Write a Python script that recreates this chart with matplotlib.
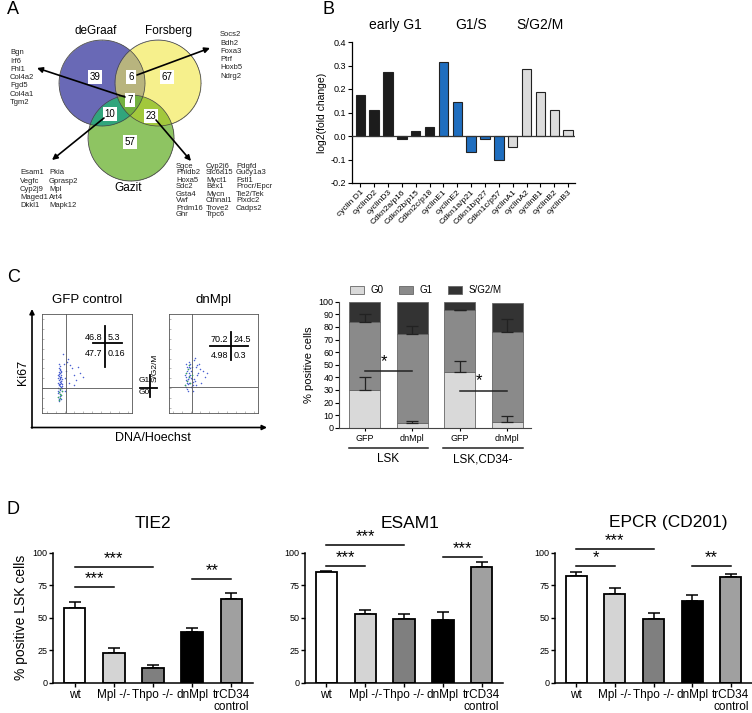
import numpy as np
import matplotlib
matplotlib.use('Agg')
import matplotlib.pyplot as plt
from matplotlib.patches import Circle

plt.rcParams['font.family'] = ['Liberation Sans', 'DejaVu Sans']

W, H = 752, 713

# ---------------- data ----------------
# A: Venn of HSC signature genes
venn_names = ['deGraaf', 'Forsberg', 'Gazit']
venn_counts = {'100': 39, '110': 6, '010': 67, '111': 7, '101': 10, '011': 23, '001': 57}
genes_all3 = ['Bgn', 'Irf6', 'Fhl1', 'Col4a2', 'Fgd5', 'Col4a1', 'Tgm2']
genes_dg_fo = ['Socs2', 'Bdh2', 'Foxa3', 'Ptrf', 'Hoxb5', 'Ndrg2']
genes_dg_ga = [['Esam1', 'Vegfc', 'Cyp2j9', 'Maged1', 'Dkkl1'],
               ['Pkia', 'Gprasp2', 'Mpl', 'Art4', 'Mapk12']]
genes_fo_ga = [['Sgce', 'Phldb2', 'Hoxa5', 'Sdc2', 'Gsta4', 'Vwf', 'Prdm16', 'Ghr'],
               ['Cyp2j6', 'Slc6a15', 'Myct1', 'Bex1', 'Mycn', 'Ctnnal1', 'Trove2', 'Trpc6'],
               ['Pdgfd', 'Gucy1a3', 'Fstl1', 'Procr/Epcr', 'Tie2/Tek', 'Plxdc2', 'Cadps2']]

# B: cell-cycle gene expression
cc_genes = ['cyclin D1', 'cyclinD2', 'cyclinD3', 'Cdkn2a/p16', 'Cdkn2b/p15', 'Cdkn2c/p18',
            'cyclinE1', 'cyclinE2', 'Cdkn1a/p21', 'Cdkn1b/p27', 'Cdkn1c/p57',
            'cyclinA1', 'cyclinA2', 'cyclinB1', 'cyclinB2', 'cyclinB3']
log2_fc = [0.175, 0.112, 0.272, -0.013, 0.021, 0.038,
           0.315, 0.145, -0.070, -0.013, -0.100,
           -0.045, 0.284, 0.187, 0.112, 0.027]
phases = ['early G1', 'G1/S', 'S/G2/M']
phase_sizes = [6, 5, 5]

# C: flow plots (Ki67 vs DNA), data units 0-100
gfp_x = [19, 20, 18, 21, 20, 19, 22, 20, 18, 21, 19, 20, 21, 20, 19, 22, 18, 20,
         21, 19, 20, 21, 20, 19, 18, 20, 22, 21, 19, 20, 20, 21, 19, 18, 20,
         19, 21, 20, 18, 22, 20, 19, 21, 20, 18, 21, 19, 20, 22, 19,
         25, 27, 30, 33, 24, 36, 29, 38, 42, 26, 31, 45, 23, 35, 28, 40]
gfp_y = [13, 15, 16, 18, 19, 21, 22, 24, 25, 26, 28, 29, 30, 31, 33, 34, 35, 36,
         38, 39, 40, 42, 43, 45, 20, 17, 27, 32, 37, 23, 47, 41, 14, 30, 35,
         12, 14, 17, 22, 25, 27, 29, 32, 34, 38, 36, 41, 44, 29, 49,
         35, 42, 30, 45, 50, 38, 55, 33, 40, 22, 48, 36, 60, 28, 52, 46]
dn_x = [18, 20, 22, 19, 24, 21, 26, 23, 28, 20, 25, 30, 22, 27, 33, 19, 24, 29, 35, 21,
        26, 31, 38, 23, 28, 20, 25, 32, 40, 22, 27, 36, 19, 24, 30, 21, 43, 34, 26, 29,
        19, 20, 21, 18, 20, 22, 19, 21, 23, 25, 27, 24]
dn_y = [28, 32, 36, 40, 30, 44, 38, 48, 34, 24, 42, 46, 52, 28, 40, 36, 50, 32, 44, 22,
        34, 38, 42, 30, 54, 46, 26, 48, 36, 40, 22, 30, 50, 38, 28, 34, 40, 50, 46, 56,
        26, 30, 34, 38, 42, 46, 33, 29, 37, 35, 31, 45]
gfp_quads = ['46.8', '5.3', '47.7', '0.16']
dn_quads = ['70.2', '24.5', '4.98', '0.3']

# C: cell-cycle distribution (% positive cells)
cc_labels = ['GFP', 'dnMpl', 'GFP', 'dnMpl']
cc_groups = ['LSK', 'LSK,CD34-']
g0 = [29.6, 3.4, 44.4, 4.8]
g0_err = [10.4, 1.6, 8.8, 4.5]
g1 = [54.5, 71.2, 49.0, 71.4]
g1_err = [5.9, 6.1, 0.0, 10.0]
sg2m = [15.9, 25.4, 6.6, 22.5]
cc_sig = [(0, 1, 44.7, '*'), (2, 3, 29.4, '*')]

# D: surface markers on LSK cells
genotypes = ['wt', 'Mpl -/-', 'Thpo -/-', 'dnMpl', 'trCD34\ncontrol']
tie2 = [57.7, 22.6, 11.0, 38.7, 64.1]
tie2_sem = [4.6, 3.8, 2.3, 3.6, 4.6]
esam1 = [85.2, 52.9, 49.0, 48.3, 88.8]
esam1_sem = [0.8, 3.1, 3.4, 5.9, 3.8]
epcr = [81.8, 67.8, 48.8, 62.9, 81.3]
epcr_sem = [3.6, 5.1, 4.4, 4.4, 2.1]
tie2_sig = [(0, 1, 73.8, '***'), (0, 2, 88.5, '***'), (3, 4, 79.7, '**')]
esam1_sig = [(0, 1, 89.6, '***'), (0, 2, 105.6, '***'), (3, 4, 96.2, '***')]
epcr_sig = [(0, 1, 89.8, '*'), (0, 2, 103.0, '***'), (3, 4, 89.8, '**')]


def px_axes(fig, x0, y0, x1, y1, **kw):
    return fig.add_axes([x0 / W, 1 - y1 / H, (x1 - x0) / W, (y1 - y0) / H], **kw)


fig = plt.figure(figsize=(W / 100, H / 100), dpi=100)

# ---------------- B ----------------
axb = px_axes(fig, 352, 42, 575, 183)
phase_colors = ['#1c1c1c', '#1f6ebf', '#dcdcdc']
bar_colors = [c for c, n in zip(phase_colors, phase_sizes) for _ in range(n)]
xb = np.arange(len(cc_genes))
axb.bar(xb, log2_fc, width=0.68, color=bar_colors, edgecolor='#222', lw=0.8, zorder=2)
axb.axhline(0, color='#333', lw=0.9, zorder=3)
axb.set_xlim(-0.6, 15.5)
axb.set_ylim(-0.2, 0.4)
yt = np.round(np.arange(-0.2, 0.41, 0.1), 1)
axb.set_yticks(yt)
axb.set_yticklabels([f'{v:.1f}' for v in yt])
axb.set_xticks(xb)
axb.set_xticklabels(cc_genes, rotation=45, ha='right', rotation_mode='anchor', fontsize=6)
axb.tick_params(axis='y', labelsize=6.5, length=3, width=0.8, pad=1.5)
axb.tick_params(axis='x', length=3, width=0.8, pad=1)
for s in ['top', 'right']:
    axb.spines[s].set_visible(False)
for s in ['left', 'bottom']:
    axb.spines[s].set_linewidth(0.9)
axb.set_ylabel('log2(fold change)', fontsize=7.5, labelpad=2)
start = 0
for name, n in zip(phases, phase_sizes):
    axb.text(start + (n - 1) / 2, 0.472, name, ha='center', va='center', fontsize=10,
             clip_on=False)
    start += n

# ---------------- C flow ----------------
for (x0, x1), xs, ys, gx, gy, title in [((42, 132), gfp_x, gfp_y, 26.7, 25, 'GFP control'),
                                          ((169, 258), dn_x, dn_y, 26, 26, 'dnMpl')]:
    axf = px_axes(fig, x0, 314, x1, 413)
    axf.scatter(xs, ys, s=1.2, color='#4a5fd1', linewidths=0, zorder=2)
    axf.scatter(xs[:8], ys[:8], s=1.2, color='#37a85a', linewidths=0, zorder=3)
    axf.axvline(gx, color='#555', lw=0.6)
    axf.axhline(gy, color='#555', lw=0.6)
    axf.set_xlim(0, 100)
    axf.set_ylim(0, 100)
    axf.set_xticks(np.arange(5, 100, 10))
    axf.set_yticks(np.arange(5, 100, 10))
    axf.set_xticklabels([])
    axf.set_yticklabels([])
    axf.tick_params(length=1.5, width=0.4, direction='in', colors='#888')
    for s in axf.spines.values():
        s.set_linewidth(0.6)
        s.set_color('#555')
    axf.set_title(title, fontsize=9.5, pad=8)

# ---------------- C bars ----------------
axc = px_axes(fig, 339, 301.7, 531, 427.7)
xc = np.arange(4)
wc = 0.65
g1_bottom = np.array(g0)
sg_bottom = g1_bottom + np.array(g1)
axc.bar(xc, g0, width=wc, color='#d9d9d9', edgecolor='#666', lw=0.6, label='G0', zorder=2)
axc.bar(xc, g1, bottom=g1_bottom, width=wc, color='#8a8a8a', edgecolor='#666', lw=0.6,
        label='G1', zorder=2)
axc.bar(xc, sg2m, bottom=sg_bottom, width=wc, color='#333333', edgecolor='#666', lw=0.6,
        label='S/G2/M', zorder=2)
axc.errorbar(xc, g0, yerr=[np.zeros(4), g0_err], fmt='none', ecolor='#222', elinewidth=0.9,
             capsize=4, capthick=0.9, zorder=3)
axc.errorbar(xc, sg_bottom, yerr=[np.zeros(4), g1_err], fmt='none', ecolor='#222',
             elinewidth=0.9, capsize=4, capthick=0.9, zorder=3)
for i, j, y, lab in cc_sig:
    axc.plot([i, j], [y, y], color='#222', lw=1.1, zorder=4)
    axc.text((i + j) / 2 - 0.1, y + 8, lab, ha='center', va='center', fontsize=12, zorder=4)
axc.set_xlim(-0.54, 3.5)
axc.set_ylim(0, 100)
axc.set_yticks(np.arange(0, 101, 10))
axc.set_xticks(xc)
axc.set_xticklabels(cc_labels, fontsize=6.5)
axc.tick_params(axis='y', labelsize=6.5, length=3, width=0.8, pad=1)
axc.tick_params(axis='x', length=2.5, width=0.8, pad=2)
for s in ['top', 'right']:
    axc.spines[s].set_visible(False)
for s in ['left', 'bottom']:
    axc.spines[s].set_linewidth(0.8)
    axc.spines[s].set_color('#444')
axc.set_ylabel('% positive cells', fontsize=8, labelpad=3)
axc.legend(loc='lower center', bbox_to_anchor=(0.45, 1.02), ncol=3, frameon=False,
           fontsize=7, handlelength=1.5, handleheight=0.9, columnspacing=1.6,
           handletextpad=0.6, borderaxespad=0)

# ---------------- D ----------------
geno_colors = ['#ffffff', '#d4d4d4', '#7f7f7f', '#000000', '#a0a0a0']
panels = [(53, 253, tie2, tie2_sem, tie2_sig, 'TIE2', 153),
          (305, 503, esam1, esam1_sem, esam1_sig, 'ESAM1', 410),
          (555, 752, epcr, epcr_sem, epcr_sig, 'EPCR (CD201)', 668)]
for k, (x0, x1, vals, sem, sig, title, tx) in enumerate(panels):
    ax = px_axes(fig, x0, 552.5, x1, 682.7)
    xd = np.arange(len(genotypes))
    ax.errorbar(xd, vals, yerr=[np.zeros(5), sem], fmt='none', ecolor='k', elinewidth=1.1,
                capsize=4, capthick=1.1, zorder=1)
    ax.bar(xd, vals, width=0.55, color=geno_colors, edgecolor='k', lw=1.3, zorder=2)
    for i, j, y, lab in sig:
        ax.plot([i, j], [y, y], color='k', lw=1.1, clip_on=False)
        ax.text((i + j) / 2, y + 6.5, lab, ha='center', va='center', fontsize=12,
                clip_on=False)
    ax.set_xlim(-0.55, 4.55)
    ax.set_ylim(0, 100)
    ax.set_yticks([0, 25, 50, 75, 100])
    ax.set_xticks(xd)
    ax.set_xticklabels(genotypes, fontsize=8.5, linespacing=0.95)
    ax.tick_params(axis='y', labelsize=6.5, length=3, width=1, pad=1)
    ax.tick_params(axis='x', length=3, width=1, pad=1.5)
    for s in ['top', 'right']:
        ax.spines[s].set_visible(False)
    for s in ['left', 'bottom']:
        ax.spines[s].set_linewidth(1.1)
    if k == 0:
        ax.set_ylabel('% positive LSK cells', fontsize=10, labelpad=3)
    fig.text(tx / W, 1 - 523 / H, title, ha='center', va='center', fontsize=12.5)

# ---------------- overlay: A and annotations ----------------
ov = fig.add_axes([0, 0, 1, 1])
ov.set_xlim(0, W)
ov.set_ylim(H, 0)
ov.axis('off')

for lab, (x, y) in zip('ABCD', [(7, 10), (322, 10), (7, 277), (7, 510)]):
    ov.text(x, y, lab, fontsize=13, ha='left', va='center')

# Venn regions
centers = [(102, 83), (158, 83), (131, 138)]
radius = 43
region_colors = {'100': '#6a6ab6', '010': '#f6f08c', '001': '#8ec462', '110': '#b9b57e',
                 '101': '#31a67c', '011': '#a2c83c', '111': '#74b13e'}
gx_, gy_ = np.meshgrid(np.arange(50, 215, 0.5), np.arange(30, 190, 0.5))
inside = [((gx_ - cx) ** 2 + (gy_ - cy) ** 2) <= radius ** 2 for cx, cy in centers]
rgba = np.zeros(gx_.shape + (4,))
for key, col in region_colors.items():
    mask = np.ones_like(gx_, dtype=bool)
    for bit, ins in zip(key, inside):
        mask &= ins if bit == '1' else ~ins
    rgba[mask] = matplotlib.colors.to_rgba(col)
ov.imshow(rgba, extent=[50, 215, 190, 30], interpolation='antialiased', zorder=1)
for cx, cy in centers:
    ov.add_patch(Circle((cx, cy), radius, fill=False, ec='#444', lw=0.5, zorder=2))

ov.text(96, 31, venn_names[0], ha='center', va='center', fontsize=8.5)
ov.text(169, 31, venn_names[1], ha='center', va='center', fontsize=8.5)
ov.text(128, 188, venn_names[2], ha='center', va='center', fontsize=8.5)

num_pos = {'100': (95, 77), '110': (131, 77), '010': (167, 77), '111': (130, 100),
           '101': (110, 114), '011': (151, 116), '001': (130, 142)}
for key, (x, y) in num_pos.items():
    ov.text(x, y, str(venn_counts[key]), ha='center', va='center', fontsize=7, zorder=4,
            bbox=dict(boxstyle='square,pad=0.2', fc='white', ec='none'))

arrow_kw = dict(arrowstyle='-|>', lw=1.2, color='k', mutation_scale=8, shrinkA=0, shrinkB=0)
for start_xy, end_xy in [((125, 97), (37, 68)), ((137, 75), (210, 48)),
                         ((104, 118), (52, 160)), ((156, 120), (191, 161))]:
    ov.annotate('', xy=end_xy, xytext=start_xy, arrowprops=arrow_kw, zorder=5)


def gene_col(x, y0, genes, dy=8.2):
    for i, g in enumerate(genes):
        ov.text(x, y0 + i * dy, g, fontsize=5.5, ha='left', va='center', color='#222')


gene_col(10, 53, genes_all3)
gene_col(220, 35, genes_dg_fo)
gene_col(20, 173, genes_dg_ga[0])
gene_col(49, 173, genes_dg_ga[1])
gene_col(176, 166, genes_fo_ga[0], dy=7)
gene_col(206, 166, genes_fo_ga[1], dy=7)
gene_col(236, 166, genes_fo_ga[2], dy=7)

# flow-panel annotations
for (vx, vy0, vy1, hy, hx0, hx1), quads in [((105, 326, 367, 343, 93, 122), gfp_quads),
                                              ((231, 332, 360, 346, 210, 248), dn_quads)]:
    ov.plot([vx, vx], [vy0, vy1], color='k', lw=1.3)
    ov.plot([hx0, hx1], [hy, hy], color='k', lw=1.3)
    ov.text(vx - 3, hy - 6, quads[0], ha='right', va='center', fontsize=6.5)
    ov.text(vx + 3, hy - 6, quads[1], ha='left', va='center', fontsize=6.5)
    ov.text(vx - 3, hy + 10, quads[2], ha='right', va='center', fontsize=6.5)
    ov.text(vx + 3, hy + 10, quads[3], ha='left', va='center', fontsize=6.5)
ov.plot([150, 150], [375, 397], color='k', lw=1.3)
ov.plot([140, 157], [388, 388], color='k', lw=1.3)
ov.text(144, 381, 'G1', ha='center', va='center', fontsize=6)
ov.text(144, 393, 'G0', ha='center', va='center', fontsize=6)
ov.text(155, 368, 'S/G2/M', ha='center', va='center', fontsize=6, rotation=90)
ov.annotate('', xy=(32, 309), xytext=(32, 428), arrowprops=dict(arrowstyle='-|>', lw=1.2,
            color='k', mutation_scale=7, shrinkA=0, shrinkB=0))
ov.annotate('', xy=(267, 427.5), xytext=(31.4, 427.5), arrowprops=dict(arrowstyle='-|>',
            lw=1.2, color='k', mutation_scale=7, shrinkA=0, shrinkB=0))
ov.text(23, 372, 'Ki67', rotation=90, ha='center', va='center', fontsize=9)
ov.text(153, 438, 'DNA/Hoechst', ha='center', va='center', fontsize=9)

# C bar-group underlines
ov.plot([349, 428], [448, 448], color='#222', lw=1.1)
ov.plot([443, 523], [448, 448], color='#222', lw=1.1)
ov.text(388, 459, cc_groups[0], ha='center', va='center', fontsize=8.5)
ov.text(483, 459, cc_groups[1], ha='center', va='center', fontsize=8.5)

fig.savefig('out.png', dpi=100)
